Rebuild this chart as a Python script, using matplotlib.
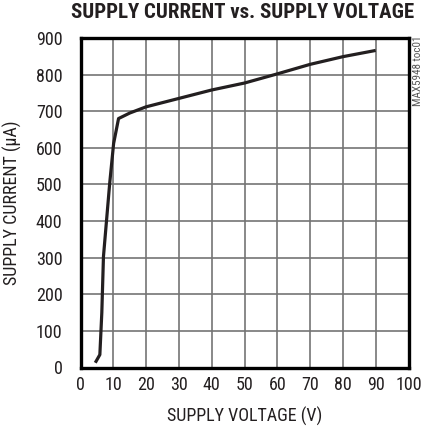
import matplotlib
matplotlib.use("Agg")
import matplotlib.pyplot as plt

# supply current vs supply voltage
volts = [4.5, 5.9, 6.5, 7.0, 8.9, 10.1, 11.6, 15, 20, 30, 40, 50, 60, 70, 80, 90]
current = [13, 35, 150, 303, 503, 612, 680, 695, 712, 735, 758, 777, 802, 828, 849, 866]

xticks = list(range(0, 101, 10))
yticks = list(range(0, 901, 100))

plt.rcParams["font.family"] = ["Roboto Condensed", "Archivo Narrow", "DejaVu Sans"]
ink = "#231f20"

fig = plt.figure(figsize=(4.22, 4.30), dpi=100)
ax = fig.add_axes([80.5/422, 1 - 367.5/430, 328/422, 329.5/430])

ax.plot(volts, current, color=ink, lw=2.3, solid_capstyle="butt")

ax.set_xlim(0, 100)
ax.set_ylim(0, 900)
ax.set_xticks(xticks)
ax.set_yticks(yticks)
ax.grid(True, color="#747474", lw=1.2)
ax.set_axisbelow(True)
for s in ax.spines.values():
    s.set_linewidth(2.4)
    s.set_color("black")
ax.tick_params(length=0, labelsize=13, colors=ink)
ax.tick_params(axis="y", pad=13)
ax.tick_params(axis="x", pad=6)

ax.set_xlabel("SUPPLY VOLTAGE (V)", fontsize=13, labelpad=9, color=ink)
ax.set_ylabel("SUPPLY CURRENT (\u03bcA)", fontsize=13, labelpad=10, color=ink)

fig.text(243/422, 1 - 13/430, "SUPPLY CURRENT vs. SUPPLY VOLTAGE",
         ha="center", va="center", fontsize=15, fontweight="black", color=ink)
fig.text(418/422, 1 - 35/430, "MAX5948 toc01", rotation=90, ha="center", va="top",
         fontsize=8, color="#555555")

fig.savefig("out.png", dpi=100)
